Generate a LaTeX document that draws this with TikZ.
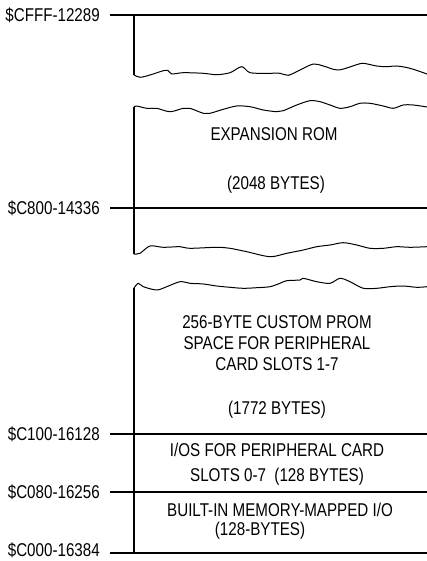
\documentclass[tikz,border=0pt]{standalone}
\usepackage{fontspec}
\setmainfont{Liberation Sans}[FakeStretch=0.82]
\usepackage{tikz}

\begin{document}
\begin{tikzpicture}[x=1pt, y=-1pt,
  addr/.style={anchor=east, inner sep=0pt, font=\fontsize{18.5}{20}\selectfont},
  memtxt/.style={inner sep=0pt, align=center, font=\fontsize{18.5}{21}\selectfont},
  rule/.style={line width=1.1pt},
  torn/.style={line width=1pt, line join=round}
]
  \useasboundingbox (0,0) rectangle (427,561);

  % address labels
  \node[addr] (cfff) at (100,15) {\$CFFF-12289};
  \node[addr] (c800) at (100,208) {\$C800-14336};
  \node[addr] (c100) at (100,434) {\$C100-16128};
  \node[addr] (c080) at (100,492) {\$C080-16256};
  \node[addr] (c000) at (100,550) {\$C000-16384};

  \coordinate (cfffR) at (427,15);
  \coordinate (c800R) at (427,208);
  \coordinate (c100R) at (427,434);
  \coordinate (c080R) at (427,492);
  \coordinate (c000L) at (110,553);
  \coordinate (c000R) at (427,553);

  \draw[rule] ([xshift=10pt]cfff.east) -- (cfffR);
  \draw[rule] ([xshift=10pt]c800.east) -- (c800R);
  \draw[rule] ([xshift=10pt]c100.east) -- (c100R);
  \draw[rule] ([xshift=10pt]c080.east) -- (c080R);
  \draw[rule] (c000L) -- (c000R);

  % left edge of the map, broken in three pieces
  \draw[rule] (134,15) -- (134,75);
  \draw[rule] (134,107) -- (134,254);
  \draw[rule] (134,288) -- (134,553);

  % torn edges
  \draw[torn] plot[smooth, tension=0.5] coordinates {(134,75) (140,77.3) (150,75) (163.3,70.7) (168.3,70.7) (171.7,74) (183.3,72.7) (203.3,73.3) (216.7,74.7) (230,72.7) (241.7,66.7) (250,72.7) (266.7,73.3) (280,73.3) (288.3,75.3) (300,70) (313.3,64) (323.3,66) (338.3,70) (356.7,64.7) (363.3,63.3) (376.7,66) (386.7,66.7) (396.7,66) (410,68.3) (427,74)};
  \draw[torn] plot[smooth, tension=0.5] coordinates {(134,107) (136.7,106) (146.7,108.3) (156.7,108.3) (170,111.7) (183.3,108.3) (190,108.3) (203.3,113.3) (210,113.3) (223.3,109.3) (236.7,106) (250,106.7) (263.3,110) (276.7,111.7) (283.3,110.7) (296.7,105) (310,100.7) (320,101.7) (330,105) (340,108.3) (350,106.7) (360,103.3) (370,103.3) (383.3,106) (393.3,108.3) (403.3,105) (413.3,105) (427,107)};
  \draw[torn] plot[smooth, tension=0.5] coordinates {(134,254) (140,253.3) (150,246) (163.3,247.3) (180,246.7) (190,248.3) (216.7,247.3) (230,248.3) (246.7,251.7) (270,256.7) (286.7,253.3) (303.3,250) (316.7,246.7) (330,245) (343.3,242.7) (356.7,245) (370,248.3) (383.3,248.3) (396.7,246.7) (410,247.3) (427,246.7)};
  \draw[torn] plot[smooth, tension=0.5] coordinates {(134,288) (138.3,283.3) (143.3,286.7) (156.7,290) (166.7,286.7) (180,281.7) (190,283.3) (203.3,284) (216.7,286) (230,287.3) (243.3,288.3) (256.7,287.7) (270,286.7) (280,283.3) (286.7,280.7) (300,280) (303.3,278.3) (316.7,281.7) (330,283.3) (340,278.3) (350,281.7) (363.3,288.3) (376.7,288.3) (390,286.7) (403.3,286) (416.7,287.3) (427,286.7)};

  % region texts
  \node[memtxt] (rom) at (274,134) {EXPANSION ROM};
  \node[memtxt] (romsize) at (276,185) {(2048 BYTES)};
  \node[memtxt] (prom) at (277,343) {256-BYTE CUSTOM PROM\\SPACE FOR PERIPHERAL\\CARD SLOTS 1-7};
  \node[memtxt] (promsize) at (277,410) {(1772 BYTES)};
  \node[memtxt, font=\fontsize{18.5}{25}\selectfont] (slotio) at (277,464) {I/OS FOR PERIPHERAL CARD\\SLOTS 0-7\ \ (128 BYTES)};
  \node[memtxt] (mmio) at (280,510) {BUILT-IN MEMORY-MAPPED I/O};
  \node[memtxt] (mmiosize) at (260,531) {(128-BYTES)};
\end{tikzpicture}
\end{document}
